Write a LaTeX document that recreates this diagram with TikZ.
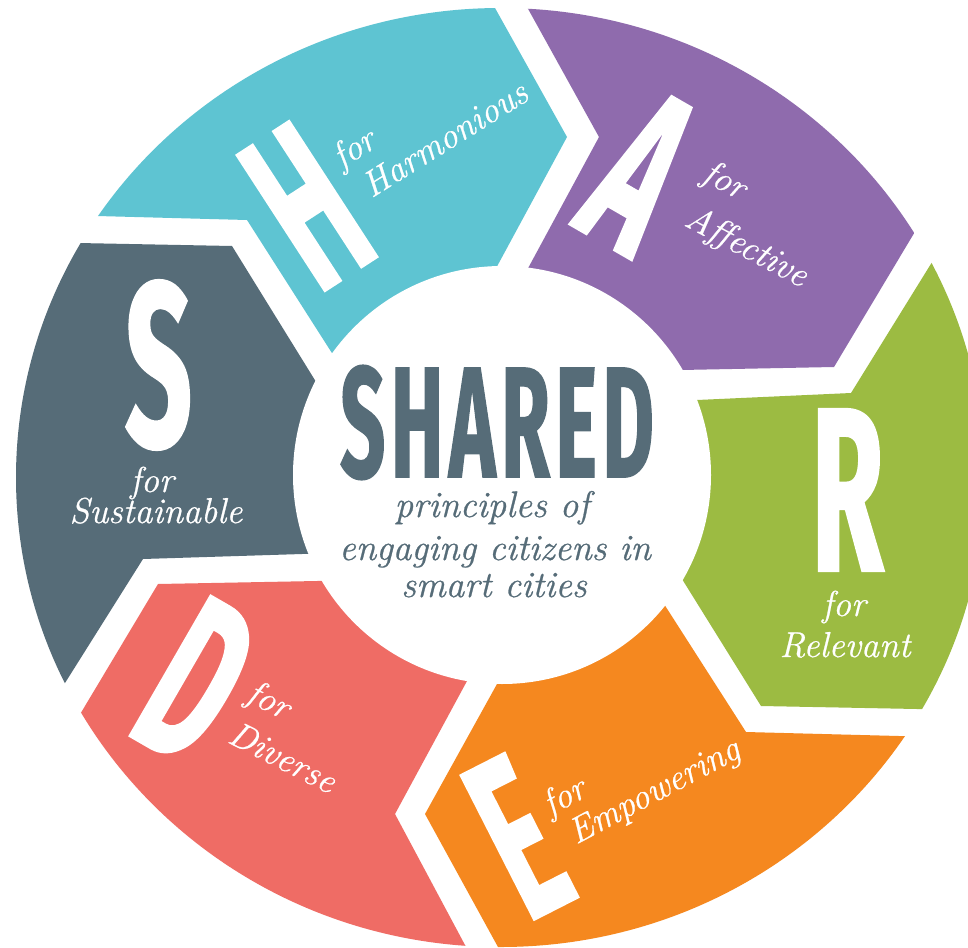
\documentclass[tikz,border=0pt]{standalone}
\usepackage{fontspec}
\usetikzlibrary{calc}
\newfontfamily\condfont{Fira Sans}[FakeStretch=0.5,FakeBold=0.9]
\newfontfamily\titlefont{Fira Sans}[FakeStretch=0.5,FakeBold=0.8,LetterSpace=3.5]
\newfontfamily\labelfont{Latin Modern Roman}[FakeBold=0.7]
\definecolor{cH}{HTML}{5EC4D2}
\definecolor{cA}{HTML}{8F6BAD}
\definecolor{cR}{HTML}{9CBB42}
\definecolor{cE}{HTML}{F5881F}
\definecolor{cD}{HTML}{EF6C65}
\definecolor{cS}{HTML}{566C78}
\newcommand\drawseg[2]{%
  \coordinate (#1m) at ($(#1to)!0.5!(#1ho)$);
  \fill[#2] (C) -- ($(#1tv)!1.3!(#1ti)$) -- (#1tv) -- ($(#1tv)!3!(#1to)$)
    -- ($(C)!3!(#1m)$) -- ($(#1hv)!3!(#1ho)$) -- (#1hv)
    -- ($(#1hv)!1.3!(#1hi)$) -- cycle;}
\tikzset{
  bigletter/.style={text=white, inner sep=0pt, font=\condfont\bfseries\fontsize{234}{234}\selectfont},
  seglabel/.style={text=white, inner sep=0pt, font=\labelfont\itshape\fontsize{36}{40}\selectfont},
  centerline/.style={text=cS, inner sep=0pt, anchor=base, font=\labelfont\itshape\fontsize{37}{40}\selectfont},
  titletext/.style={text=cS, inner sep=0pt, font=\titlefont\bfseries\fontsize{158}{158}\selectfont},
}
\begin{document}
\begin{tikzpicture}[x=1pt,y=-1pt]
\useasboundingbox (0,0) rectangle (968,947);
\fill[white] (0,0) rectangle (968,947);
\coordinate (C) at (502,475);
% H
\coordinate (Hto) at (97,216);  \coordinate (Htv) at (247,220); \coordinate (Hti) at (330,350);
\coordinate (Hho) at (495,8);   \coordinate (Hhv) at (567,137); \coordinate (Hhi) at (494,272);
% A
\coordinate (Ato) at (527,7);   \coordinate (Atv) at (599,137); \coordinate (Ati) at (526,272);
\coordinate (Aho) at (913,235); \coordinate (Ahv) at (834,367); \coordinate (Ahi) at (681,370);
% R
\coordinate (Rto) at (929,267); \coordinate (Rtv) at (851,393); \coordinate (Rti) at (697,400);
\coordinate (Rho) at (917,709); \coordinate (Rhv) at (761,706); \coordinate (Rhi) at (682,579);
% E
\coordinate (Eto) at (899,736); \coordinate (Etv) at (746,732); \coordinate (Eti) at (664,604);
\coordinate (Eho) at (498,947); \coordinate (Ehv) at (425,814); \coordinate (Ehi) at (497,684);
% D
\coordinate (Dto) at (465,945); \coordinate (Dtv) at (395,814); \coordinate (Dti) at (467,681);
\coordinate (Dho) at (82,711);  \coordinate (Dhv) at (158,584); \coordinate (Dhi) at (317,581);
% S
\coordinate (Sto) at (65,683);  \coordinate (Stv) at (143,559); \coordinate (Sti) at (302,554);
\coordinate (Sho) at (78,243);  \coordinate (Shv) at (232,246); \coordinate (Shi) at (313,377);
\begin{scope}
  \clip (500.5,477.5) ellipse [x radius=484.5pt, y radius=469.5pt];
  \drawseg{H}{cH}
  \drawseg{A}{cA}
  \drawseg{R}{cR}
  \drawseg{E}{cE}
  \drawseg{D}{cD}
  \drawseg{S}{cS}
\end{scope}
\fill[white] (C) circle [radius=209pt];
% big letters
\node[bigletter, rotate=33]  (bigH) at (307,206) {H};
\node[bigletter, rotate=-30] (bigA) at (641,172) {A};
\node[bigletter]             (bigR) at (847.5,490) {R};
\node[bigletter, rotate=27]  (bigE) at (518,837) {E};
\node[bigletter, rotate=-30] (bigD) at (196.5,681) {D};
\node[bigletter]             (bigS) at (158.5,365) {S};
% segment labels
\node[seglabel, rotate=32]  (forH) at (355,150) {for};
\node[seglabel, rotate=32]  (txtH) at (444.5,138.5) {Harmonious};
\node[seglabel, rotate=-28] (forA) at (724,182) {for};
\node[seglabel, rotate=-28] (txtA) at (746,248) {Affective};
\node[seglabel, anchor=base] (forR) at (844,616) {for};
\node[seglabel, anchor=base] (txtR) at (845,657) {Relevant};
\node[seglabel, rotate=28]  (forE) at (565,798) {for};
\node[seglabel, rotate=28]  (txtE) at (655,793) {Empowering};
\node[seglabel, rotate=-27] (forD) at (268,702) {for};
\node[seglabel, rotate=-27] (txtD) at (283,757) {Diverse};
\node[seglabel, anchor=base] (forS) at (152,492) {for};
\node[seglabel, anchor=base] (txtS) at (156,523) {Sustainable};
% centre
\node[titletext] (title) at (497,422.5) {SHARED};
\node[centerline] (sub1) at (492,517) {principles of};
\node[centerline] (sub2) at (495,560) {engaging citizens in};
\node[centerline] (sub3) at (494,597) {smart cities};
\end{tikzpicture}
\end{document}
